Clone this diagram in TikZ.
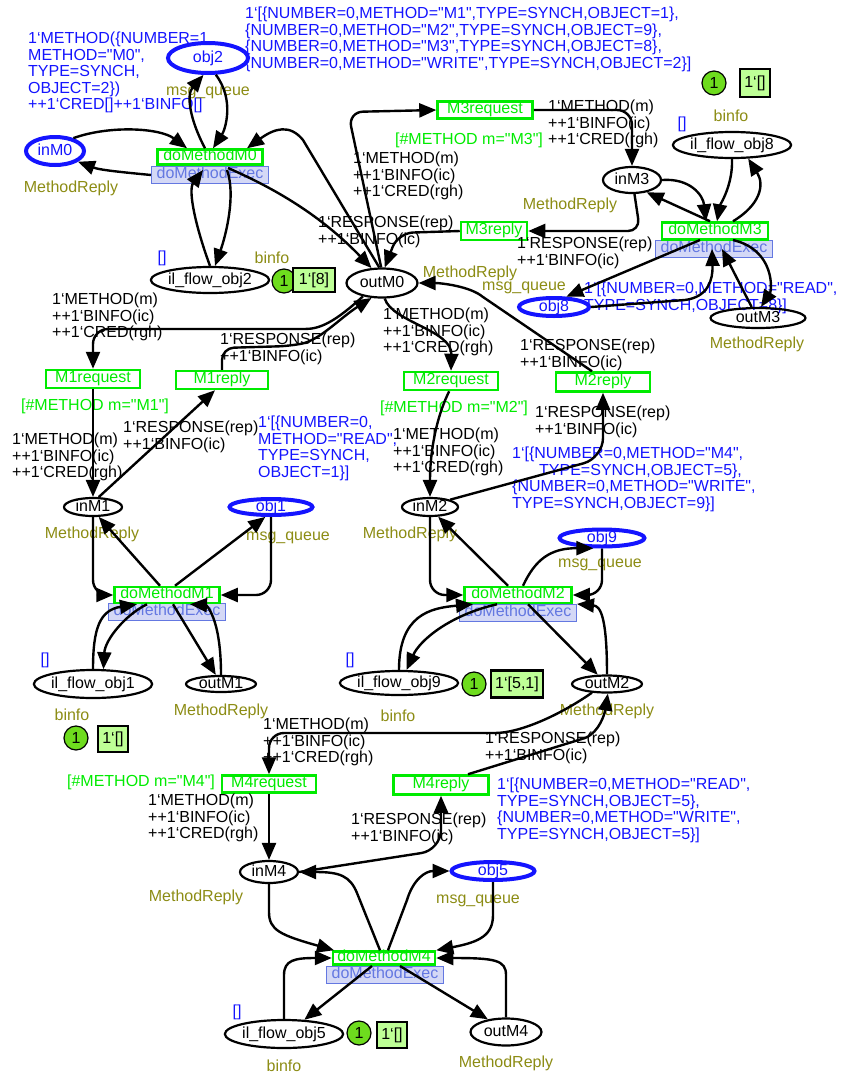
\documentclass[tikz,border=0pt]{standalone}
\usepackage{fontspec}
\setmainfont{Liberation Sans}[Ligatures=TeXOff]
\usetikzlibrary{arrows.meta,shapes.geometric}

\definecolor{cpnblue}{RGB}{20,20,255}
\definecolor{cpngreen}{RGB}{0,235,0}
\definecolor{cpnolive}{RGB}{140,140,20}
\definecolor{tagfill}{RGB}{212,216,246}
\definecolor{tagline}{RGB}{100,120,225}
\definecolor{tokfill}{RGB}{110,220,30}
\definecolor{markfill}{RGB}{190,255,150}

\tikzset{
  place/.style={ellipse, draw, line width=2.2pt, inner sep=0pt, text height=9pt, text depth=0pt},
  port/.style={place, draw=cpnblue, line width=4pt, text=cpnblue},
  trans/.style={rectangle, draw=cpngreen, line width=2.5pt, text=cpngreen, inner sep=0pt, text height=9pt, text depth=3pt},
  subst/.style={rectangle, draw=tagline, fill=tagfill, text=tagline, line width=1pt, inner sep=0pt, minimum width=117pt, minimum height=17pt, text height=9pt, text depth=2pt},
  arc/.style={line width=2.4pt, -{Triangle[length=17pt,width=14pt]}},
  inscr/.style={align=left, anchor=north west, inner sep=0pt},
  initmark/.style={inscr, text=cpnblue},
  ptype/.style={text=cpnolive, inner sep=0pt},
  guard/.style={text=cpngreen, inner sep=0pt},
  tok/.style={circle, draw, line width=1.2pt, fill=tokfill, minimum size=24pt, inner sep=0pt},
  tokbox/.style={rectangle, draw, line width=2.5pt, fill=markfill, inner sep=0pt, minimum height=26pt},
}

\begin{document}
\begin{tikzpicture}[x=1pt, y=-1pt, font=\fontsize{16}{16.5}\selectfont]
  \useasboundingbox (0,0) rectangle (843,1074);

  % initial markings
  \node[initmark] (initM0) at (28,32) {1‘METHOD(\{NUMBER=1,\\METHOD="M0",\\TYPE=SYNCH,\\OBJECT=2\})\\++1‘CRED[]++1‘BINFO[]};
  \node[initmark] (initObj2) at (245,7) {1‘[\{NUMBER=0,METHOD="M1",TYPE=SYNCH,OBJECT=1\},\\\{NUMBER=0,METHOD="M2",TYPE=SYNCH,OBJECT=9\},\\\{NUMBER=0,METHOD="M3",TYPE=SYNCH,OBJECT=8\},\\\{NUMBER=0,METHOD="WRITE",TYPE=SYNCH,OBJECT=2\}]};
  \node[initmark] (initObj8) at (584,282) {1‘[\{NUMBER=0,METHOD="READ",\\TYPE=SYNCH,OBJECT=8\}]};
  \node[initmark] (initObj1) at (258,416) {1‘[\{NUMBER=0,\\METHOD="READ",\\TYPE=SYNCH,\\OBJECT=1\}]};
  \node[initmark] (initObj9) at (512,447) {1‘[\{NUMBER=0,METHOD="M4",\\\hspace*{27pt}TYPE=SYNCH,OBJECT=5\},\\\{NUMBER=0,METHOD="WRITE",\\TYPE=SYNCH,OBJECT=9\}]};
  \node[initmark] (initObj5) at (497,778) {1‘[\{NUMBER=0,METHOD="READ",\\TYPE=SYNCH,OBJECT=5\},\\\{NUMBER=0,METHOD="WRITE",\\TYPE=SYNCH,OBJECT=5\}]};

  % M0 block
  \node[port, minimum width=80pt, minimum height=30pt] (obj2) at (208,58) {obj2};
  \node[port, minimum width=58pt, minimum height=28pt] (inM0) at (55,151) {inM0};
  \node[subst] (M0exec) at (210,175) {doMethodExec};
  \node[trans, minimum width=105pt, minimum height=15pt] (doMethodM0) at (210,157) {doMethodM0};
  \node[place, minimum width=115pt, minimum height=26pt] (flowObj2) at (210,280) {il\_flow\_obj2};
  \node[place, minimum width=71pt, minimum height=29pt] (outM0) at (382,283) {outM0};
  \node[ptype] (tyObj2) at (208,93) {msg\_queue};
  \node[ptype] (tyInM0) at (71,188) {MethodReply};
  \node[ptype] (tyFlow2) at (272,258) {binfo};
  \node[ptype] (tyOutM0) at (470,273) {MethodReply};
  \node[text=cpnblue, inner sep=0pt] (emFlow2) at (162,258) {[]};
  \node[tok] (tokM0) at (284,281) {1};
  \node[tokbox, minimum width=42pt, minimum height=24pt] (mkM0) at (314,280) {1‘[8]};

  % M3 block
  \node[trans, minimum width=95pt, minimum height=17pt] (M3request) at (485,110) {M3request};
  \node[guard] (gM3) at (469,140) {[\#METHOD m="M3"]};
  \node[place, minimum width=58pt, minimum height=26pt] (inM3) at (632,180) {inM3};
  \node[ptype] (tyInM3) at (570,205) {MethodReply};
  \node[trans, minimum width=66pt, minimum height=18pt] (M3reply) at (494,231) {M3reply};
  \node[subst] (M3exec) at (714,249) {doMethodExec};
  \node[trans, minimum width=106pt, minimum height=17pt] (doMethodM3) at (715,231) {doMethodM3};
  \node[place, minimum width=113pt, minimum height=26pt] (flowObj8) at (732,145) {il\_flow\_obj8};
  \node[text=cpnblue, inner sep=0pt] (emFlow8) at (682,124) {[]};
  \node[ptype] (tyFlow8) at (731,116) {binfo};
  \node[tok] (tokM3) at (714,83) {1};
  \node[tokbox, minimum width=30pt, minimum height=28pt] (mkM3) at (755,83) {1‘[]};
  \node[port, minimum width=70pt, minimum height=18pt] (obj8) at (554,307) {obj8};
  \node[ptype] (tyObj8) at (524,288) {msg\_queue};
  \node[place, minimum width=95pt, minimum height=20pt] (outM3) at (758,318) {outM3};
  \node[ptype] (tyOutM3) at (757,344) {MethodReply};

  % M1 block
  \node[trans, minimum width=94pt, minimum height=18pt] (M1request) at (93,379) {M1request};
  \node[guard] (gM1) at (95,406) {[\#METHOD m="M1"]};
  \node[trans, minimum width=92pt, minimum height=18pt] (M1reply) at (222,380) {M1reply};
  \node[place, minimum width=58pt, minimum height=18pt] (inM1) at (93,507) {inM1};
  \node[ptype] (tyInM1) at (92,534) {MethodReply};
  \node[port, minimum width=83pt, minimum height=16pt] (obj1) at (271,507) {obj1};
  \node[ptype] (tyObj1) at (288,538) {msg\_queue};
  \node[subst] (M1exec) at (167,612) {doMethodExec};
  \node[trans, minimum width=105pt, minimum height=16pt] (doMethodM1) at (167,595) {doMethodM1};
  \node[place, minimum width=114pt, minimum height=28pt] (flowObj1) at (93,684) {il\_flow\_obj1};
  \node[text=cpnblue, inner sep=0pt] (emFlow1) at (45,660) {[]};
  \node[ptype] (tyFlow1) at (72,715) {binfo};
  \node[place, minimum width=70pt, minimum height=16pt] (outM1) at (221,684) {outM1};
  \node[ptype] (tyOutM1) at (221,711) {MethodReply};
  \node[tok] (tokM1) at (76,738) {1};
  \node[tokbox, minimum width=30pt, minimum height=26pt] (mkM1) at (113,739) {1‘[]};

  % M2 block
  \node[trans, minimum width=94pt, minimum height=18pt] (M2request) at (451,381) {M2request};
  \node[guard] (gM2) at (454,408) {[\#METHOD m="M2"]};
  \node[trans, minimum width=94pt, minimum height=19pt] (M2reply) at (603,382) {M2reply};
  \node[place, minimum width=56pt, minimum height=18pt] (inM2) at (430,507) {inM2};
  \node[ptype] (tyInM2) at (410,534) {MethodReply};
  \node[port, minimum width=85pt, minimum height=17pt] (obj9) at (602,538) {obj9};
  \node[ptype] (tyObj9) at (600,565) {msg\_queue};
  \node[subst] (M2exec) at (518,613) {doMethodExec};
  \node[trans, minimum width=107pt, minimum height=16pt] (doMethodM2) at (518,595) {doMethodM2};
  \node[place, minimum width=114pt, minimum height=24pt] (flowObj9) at (399,683) {il\_flow\_obj9};
  \node[text=cpnblue, inner sep=0pt] (emFlow9) at (350,660) {[]};
  \node[ptype] (tyFlow9) at (398,716) {binfo};
  \node[tok] (tokM2) at (474,684) {1};
  \node[tokbox, minimum width=52pt, minimum height=27pt] (mkM2) at (517,684) {1‘[5,1]};
  \node[place, minimum width=70pt, minimum height=17pt] (outM2) at (607,684) {outM2};
  \node[ptype] (tyOutM2) at (607,711) {MethodReply};

  % M4 block
  \node[trans, minimum width=94pt, minimum height=17pt] (M4request) at (269,784) {M4request};
  \node[guard] (gM4) at (141,782) {[\#METHOD m="M4"]};
  \node[trans, minimum width=95pt, minimum height=19pt] (M4reply) at (441,785) {M4reply};
  \node[place, minimum width=58pt, minimum height=22pt] (inM4) at (269,872) {inM4};
  \node[ptype] (tyInM4) at (196,897) {MethodReply};
  \node[port, minimum width=83pt, minimum height=18pt] (obj5) at (493,871) {obj5};
  \node[ptype] (tyObj5) at (478,901) {msg\_queue};
  \node[subst] (M4exec) at (385,975) {doMethodExec};
  \node[trans, minimum width=102pt, minimum height=13pt] (doMethodM4) at (384,958) {doMethodM4};
  \node[place, minimum width=115pt, minimum height=28pt] (flowObj5) at (284,1034) {il\_flow\_obj5};
  \node[text=cpnblue, inner sep=0pt] (emFlow5) at (237,1012) {[]};
  \node[ptype] (tyFlow5) at (284,1066) {binfo};
  \node[tok] (tokM4) at (359,1033) {1};
  \node[tokbox, minimum width=30pt, minimum height=26pt] (mkM4) at (392,1035) {1‘[]};
  \node[place, minimum width=71pt, minimum height=27pt] (outM4) at (506,1032) {outM4};
  \node[ptype] (tyOutM4) at (506,1063) {MethodReply};

  % arcs around doMethodM0
  \draw[arc] (obj2.-65) .. controls (235,100) and (225,130) .. ([xshift=3pt]doMethodM0.north);
  \draw[arc] ([xshift=-5pt]doMethodM0.north) .. controls (190,120) and (186,95) .. (obj2.-105);
  \draw[arc] (inM0.35) .. controls (110,125) and (160,128) .. ([xshift=-23pt]doMethodM0.north);
  \draw[arc] (M0exec.west) .. controls (120,172) and (100,170) .. (inM0.-25);
  \draw[arc] (flowObj2.north) .. controls (195,225) and (188,190) .. (203,170);
  \draw[arc] (227,170) .. controls (236,195) and (226,235) .. ([xshift=5pt]flowObj2.north);
  \draw[arc] (228,168) .. controls (290,195) and (330,225) .. (outM0.125);
  \draw[arc] (outM0.100) -- (303,140) .. controls (290,124) and (275,128) .. ([xshift=37pt]doMethodM0.north);

  % M3 request / reply
  \draw[arc, rounded corners=15pt] (outM0.93) -- (348,112) -- (M3request.west);
  \node[inscr] (lReqM3a) at (353,152) {1‘METHOD(m)\\++1‘BINFO(ic)\\++1‘CRED(rgh)};
  \draw[arc, rounded corners=15pt] (M3request.east) -- (632,110) -- (inM3.north);
  \node[inscr] (lReqM3b) at (548,100) {1‘METHOD(m)\\++1‘BINFO(ic)\\++1‘CRED(rgh)};
  \draw[arc, rounded corners=12pt] (inM3.-80) -- (640,231) -- (M3reply.east);
  \node[inscr] (lRepM3b) at (517,237) {1‘RESPONSE(rep)\\++1‘BINFO(ic)};
  \draw[arc, rounded corners=15pt] (M3reply.west) -- (398,233) -- (outM0.80);
  \node[inscr] (lRepM3a) at (318,216) {1‘RESPONSE(rep)\\++1‘BINFO(ic)};

  % arcs around doMethodM3
  \draw[arc] (inM3.east) .. controls (690,178) and (703,195) .. ([xshift=-9pt]doMethodM3.north);
  \draw[arc] ([xshift=-5pt]doMethodM3.north) -- (inM3.-40);
  \draw[arc] (flowObj8.south) .. controls (733,185) and (720,205) .. ([xshift=2pt]doMethodM3.north);
  \draw[arc] ([xshift=18pt]doMethodM3.north) .. controls (760,205) and (765,185) .. (flowObj8.-40);
  \draw[arc] ([xshift=-14pt]M3exec.north) -- (obj8.40);
  \draw[arc] (obj8.east) -- (685,300) .. controls (708,297) and (713,280) .. ([xshift=-2pt]M3exec.center);
  \draw[arc] ([xshift=19pt]M3exec.north) .. controls (775,250) and (772,290) .. ([xshift=3pt]outM3.north);
  \draw[arc] (outM3.120) -- ([xshift=8pt]M3exec.center);

  % M1 request / reply
  \draw[arc, rounded corners=15pt] (outM0.-145) .. controls (335,322) and (320,329) .. (290,329) -- (93,329) -- (M1request.north);
  \node[inscr] (lReqM1a) at (52,293) {1‘METHOD(m)\\++1‘BINFO(ic)\\++1‘CRED(rgh)};
  \draw[arc, rounded corners=12pt] (M1reply.north) -- (222,348) -- (290,346) .. controls (320,340) and (340,318) .. (outM0.-125);
  \node[inscr] (lRepM1a) at (220,333) {1‘RESPONSE(rep)\\++1‘BINFO(ic)};
  \draw[arc] (M1request.south) -- (inM1.north);
  \node[inscr] (lReqM1b) at (12,433) {1‘METHOD(m)\\++1‘BINFO(ic)\\++1‘CRED(rgh)};
  \draw[arc] (inM1.60) -- ([xshift=-7pt]M1reply.south);
  \node[inscr] (lRepM1b) at (123,421) {1‘RESPONSE(rep)\\++1‘BINFO(ic)};

  % M2 request / reply
  \draw[arc] (outM0.-80) .. controls (392,322) and (452,330) .. (M2request.north);
  \node[inscr] (lReqM2a) at (383,308) {1‘METHOD(m)\\++1‘BINFO(ic)\\++1‘CRED(rgh)};
  \draw[arc] (M2request.-100) .. controls (435,420) and (430,455) .. (inM2.north);
  \node[inscr] (lReqM2b) at (393,428) {1‘METHOD(m)\\++1‘BINFO(ic)\\++1‘CRED(rgh)};
  \draw[arc, rounded corners=20pt] (inM2.20) -- (603,458) -- (M2reply.south);
  \node[inscr] (lRepM2b) at (535,406) {1‘RESPONSE(rep)\\++1‘BINFO(ic)};
  \draw[arc] ([xshift=-11pt]M2reply.north) -- (483,297) .. controls (470,286) and (440,283) .. (outM0.east);
  \node[inscr] (lRepM2a) at (520,339) {1‘RESPONSE(rep)\\++1‘BINFO(ic)};

  % arcs around doMethodM1
  \draw[arc, rounded corners=15pt] (inM1.south) -- (93,595) -- (doMethodM1.west);
  \draw[arc] ([xshift=-7pt]doMethodM1.north) -- (inM1.-60);
  \draw[arc] ([xshift=8pt]doMethodM1.north) -- (obj1.-120);
  \draw[arc, rounded corners=15pt] (obj1.south) -- (271,595) -- (doMethodM1.east);
  \draw[arc] (flowObj1.north) .. controls (93,628) and (100,610) .. ([xshift=-30pt]doMethodM1.south);
  \draw[arc] ([xshift=-20pt]doMethodM1.south) .. controls (125,615) and (105,640) .. (flowObj1.55);
  \draw[arc] ([xshift=6pt]doMethodM1.south) -- (outM1.120);
  \draw[arc] (outM1.north) .. controls (221,615) and (205,605) .. ([xshift=23pt]doMethodM1.south);

  % arcs around doMethodM2
  \draw[arc, rounded corners=15pt] (inM2.south) -- (430,595) -- (doMethodM2.west);
  \draw[arc] ([xshift=-10pt]doMethodM2.north) -- (inM2.-50);
  \draw[arc] ([xshift=5pt]doMethodM2.north) .. controls (535,560) and (550,548) .. (obj9.-130);
  \draw[arc, rounded corners=15pt] (obj9.south) -- (602,595) -- (doMethodM2.east);
  \draw[arc] (flowObj9.north) .. controls (399,615) and (430,608) .. ([xshift=-45pt]doMethodM2.south);
  \draw[arc] ([xshift=-21pt]doMethodM2.south) .. controls (450,615) and (420,640) .. (flowObj9.60);
  \draw[arc] ([xshift=10pt]doMethodM2.south) -- (outM2.135);
  \draw[arc] (outM2.north) .. controls (607,615) and (600,606) .. (M2exec.north east);

  % M4 request / reply
  \draw[arc, rounded corners=15pt] (outM2.-150) .. controls (560,715) and (520,733) .. (480,733) -- (269,733) -- (M4request.north);
  \node[inscr] (lReqM4a) at (263,718) {1‘METHOD(m)\\++1‘BINFO(ic)\\++1‘CRED(rgh)};
  \draw[arc] (M4request.south) -- (inM4.north);
  \node[inscr] (lReqM4b) at (148,794) {1‘METHOD(m)\\++1‘BINFO(ic)\\++1‘CRED(rgh)};
  \draw[arc, rounded corners=20pt] (inM4.east) -- (441,850) -- (M4reply.south);
  \node[inscr] (lRepM4b) at (351,813) {1‘RESPONSE(rep)\\++1‘BINFO(ic)};
  \draw[arc] ([xshift=27pt]M4reply.north) -- (585,738) .. controls (600,732) and (605,712) .. (outM2.-85);
  \node[inscr] (lRepM4a) at (485,732) {1‘RESPONSE(rep)\\++1‘BINFO(ic)};

  % arcs around doMethodM4
  \draw[arc] (inM4.south) -- (269,912) .. controls (269,930) and (280,935) .. ([xshift=-50pt]doMethodM4.north);
  \draw[arc] ([xshift=-4pt]doMethodM4.north) -- (357,893) .. controls (350,876) and (340,872) .. (inM4.east);
  \draw[arc] ([xshift=4pt]doMethodM4.north) -- (407,900) .. controls (413,880) and (425,871) .. (obj5.west);
  \draw[arc] (obj5.south) -- (493,915) .. controls (493,935) and (480,942) .. (doMethodM4.north east);
  \draw[arc] (flowObj5.north) -- (284,975) .. controls (284,960) and (295,958) .. (doMethodM4.west);
  \draw[arc] ([xshift=-13pt]M4exec.north) -- (flowObj5.35);
  \draw[arc] ([xshift=15pt]M4exec.north) -- (outM4.145);
  \draw[arc] (outM4.north) -- (506,975) .. controls (506,960) and (495,958) .. (doMethodM4.east);
\end{tikzpicture}
\end{document}
